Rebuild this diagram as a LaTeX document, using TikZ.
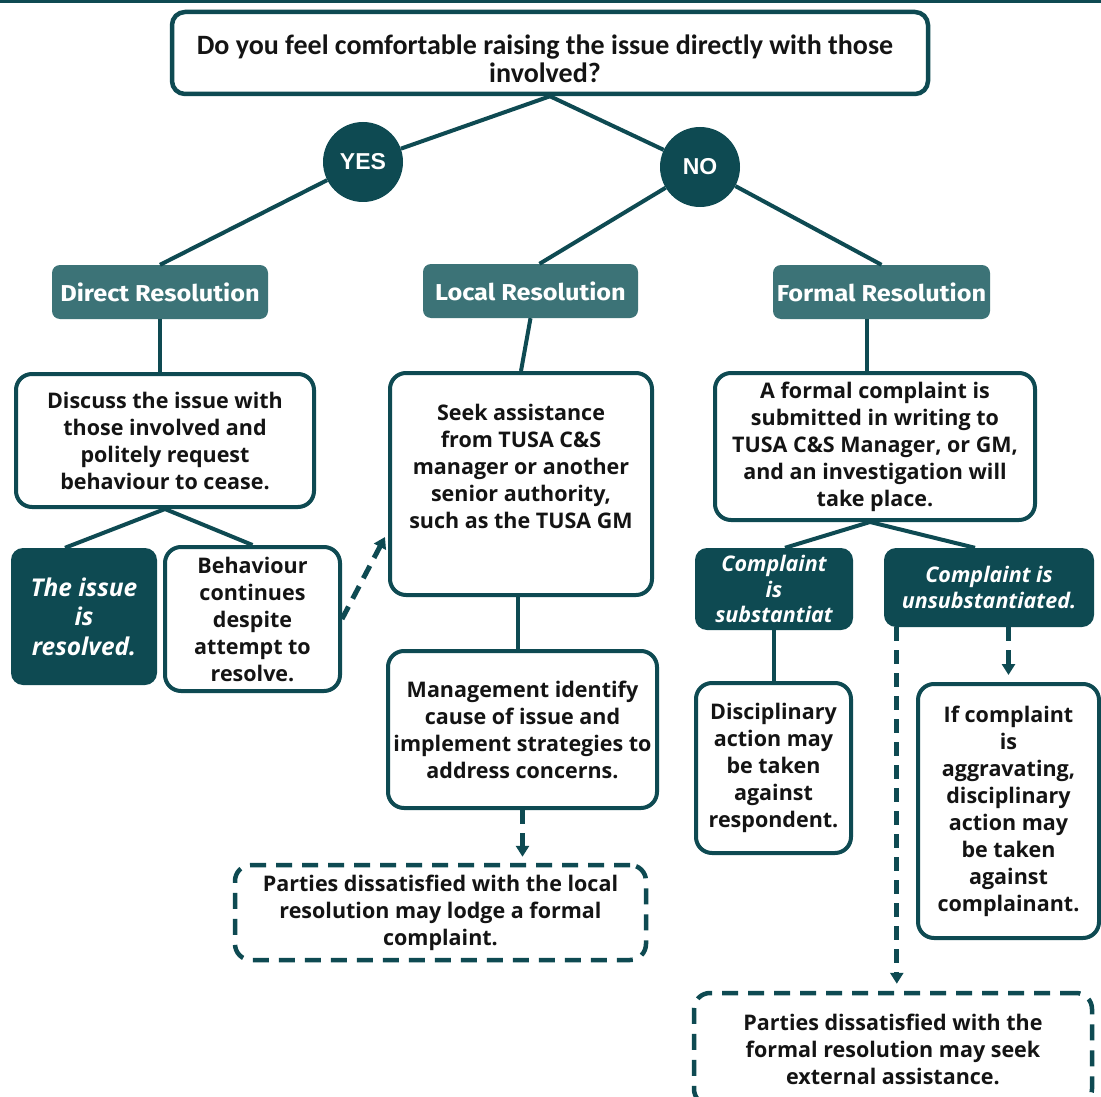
\documentclass[tikz,border=0pt]{standalone}
\usepackage{fontspec}
\setmainfont{Open Sans}
\newfontfamily\qfont{Carlito}
\newfontfamily\hfont{Fira Sans}[FakeStretch=1.1]
\newfontfamily\yfont{Liberation Sans}
\usetikzlibrary{arrows.meta}
\definecolor{tealdark}{HTML}{0E4A52}
\definecolor{teallight}{HTML}{3C7377}
\definecolor{ink}{HTML}{141414}
\tikzset{
  wbox/.style={draw=tealdark, line width=4pt, rounded corners=16pt, fill=white, align=center, text=ink,
    font=\bfseries\fontsize{21.5}{27}\selectfont, inner sep=0pt},
  txt/.style={align=center, text=ink, font=\bfseries\fontsize{21.5}{27}\selectfont, inner sep=0pt},
  dbox/.style={fill=tealdark, rounded corners=12pt, align=center, text=white,
    font=\bfseries\itshape\fontsize{21.5}{25.5}\selectfont, inner sep=0pt},
  hbox/.style={fill=teallight, rounded corners=8pt, text=white, inner sep=0pt,
    font=\hfont\bfseries\fontsize{23}{26}\selectfont},
  circ/.style={circle, fill=tealdark, minimum size=80pt, inner sep=0pt, text=white,
    font=\yfont\bfseries\fontsize{23}{26}\selectfont},
  conn/.style={draw=tealdark, line width=4pt},
  dconn/.style={draw=tealdark, line width=5pt, dash pattern=on 14pt off 9pt,
    -{Triangle[length=11pt,width=13pt]}},
  dashbox/.style={wbox, dash pattern=on 16pt off 10pt, line width=4.5pt}
}
\begin{document}
\begin{tikzpicture}[x=1pt,y=-1pt]
\useasboundingbox (0,0) rectangle (1101,1097);
\fill[white] (0,0) rectangle (1101,1097);
\fill[tealdark] (0,0) rectangle (1101,3);

% question
\node[wbox, rounded corners=13pt, line width=4.5pt, minimum width=756pt, minimum height=82pt] (q) at (550,53) {};
\node[txt, font=\qfont\bfseries\fontsize{28}{28}\selectfont] (qtxt) at (545,59)
  {Do you feel comfortable raising the issue directly with those\\involved?};

\node[circ] (yes) at (363,162) {YES};
\node[circ] (no) at (700,167) {NO};

% headings
\node[hbox, minimum width=216pt, minimum height=54pt] (direct) at (160,292) {Direct Resolution};
\node[hbox, minimum width=215pt, minimum height=54pt] (local) at (530.5,291) {Local Resolution};
\node[hbox, minimum width=217pt, minimum height=54pt] (formal) at (881.5,292) {Formal Resolution};

% direct branch
\node[wbox, minimum width=298pt, minimum height=133pt] (discuss) at (165,440.5)
  {Discuss the issue with\\those involved and\\politely request\\behaviour to cease.};
\node[dbox, minimum width=146pt, minimum height=137pt, font=\bfseries\itshape\fontsize{24.5}{29.5}\selectfont] (issue) at (84,616.5)
  {The issue\\is\\resolved.};
\node[wbox, minimum width=175pt, minimum height=144pt] (behav) at (252.5,619)
  {Behaviour\\continues\\despite\\attempt to\\resolve.};

% local branch
\node[wbox, minimum width=262pt, minimum height=222pt] (seek) at (521,484) {};
\node[txt] (seektxt) at (521,466)
  {Seek assistance\\from TUSA C\&S\\manager or another\\senior authority,\\such as the TUSA GM};
\node[wbox, minimum width=269pt, minimum height=157pt] (mgmt) at (522.5,729.5)
  {Management identify\\cause of issue and\\implement strategies to\\address concerns.};
\node[dashbox, minimum width=411pt, minimum height=95pt] (dash1) at (440.5,912.5)
  {Parties dissatisfied with the local\\resolution may lodge a formal\\complaint.};

% formal branch
\node[wbox, minimum width=320pt, minimum height=147pt] (fc) at (875,446.5)
  {A formal complaint is\\submitted in writing to\\TUSA C\&S Manager, or GM,\\and an investigation will\\take place.};
\node[dbox, minimum width=158pt, minimum height=82pt] (subst) at (774,589)
  {Complaint\\is\\substantiat};
\node[dbox, minimum width=210pt, minimum height=79pt] (unsubst) at (989,587.5)
  {Complaint is\\unsubstantiated.};
\node[wbox, minimum width=155pt, minimum height=170pt] (disc) at (773.5,768)
  {Disciplinary\\action may\\be taken\\against\\respondent.};
\node[wbox, minimum width=181pt, minimum height=254pt] (ifc) at (1008.5,811)
  {If complaint\\is\\aggravating,\\disciplinary\\action may\\be taken\\against\\complainant.};
\node[dashbox, minimum width=398pt, minimum height=112pt] (dash2) at (893,1049)
  {Parties dissatisfied with the\\formal resolution may seek\\external assistance.};

% connectors
\draw[conn] (q.south) -- (yes);
\draw[conn] (q.south) -- (no);
\draw[conn] (yes) -- (direct.north);
\draw[conn] (no) -- ([xshift=9pt]local.north);
\draw[conn] (no) -- (formal.north);
\draw[conn] (direct.south) -- (direct.south |- discuss.north);
\draw[conn] (discuss.south) -- ([xshift=-19pt]issue.north);
\draw[conn] (discuss.south) -- (behav.north);
\draw[dconn] (behav.east) -- ([yshift=-53pt,xshift=-3pt]seek.west);
\draw[conn] (local.south) -- (seek.north);
\draw[conn] ([xshift=-3pt]seek.south) -- ([xshift=-3pt]seek.south |- mgmt.north);
\draw[dconn, shorten >=6pt] (mgmt.south) -- (mgmt.south |- dash1.north);
\draw[conn] ([xshift=-15pt]formal.south) -- ([xshift=-15pt]formal.south |- fc.north);
\draw[conn] ([xshift=-5pt]fc.south) -- ([xshift=11pt]subst.north);
\draw[conn] ([xshift=-5pt]fc.south) -- ([xshift=-14pt]unsubst.north);
\draw[conn] (subst.south) -- (subst.south |- disc.north);
\draw[dconn, shorten >=7pt] (ifc.north |- unsubst.south) -- (ifc.north);
\draw[dconn, shorten >=7pt] ([xshift=13pt]unsubst.south west) -- ([xshift=13pt]unsubst.south west |- dash2.north);
\end{tikzpicture}
\end{document}
